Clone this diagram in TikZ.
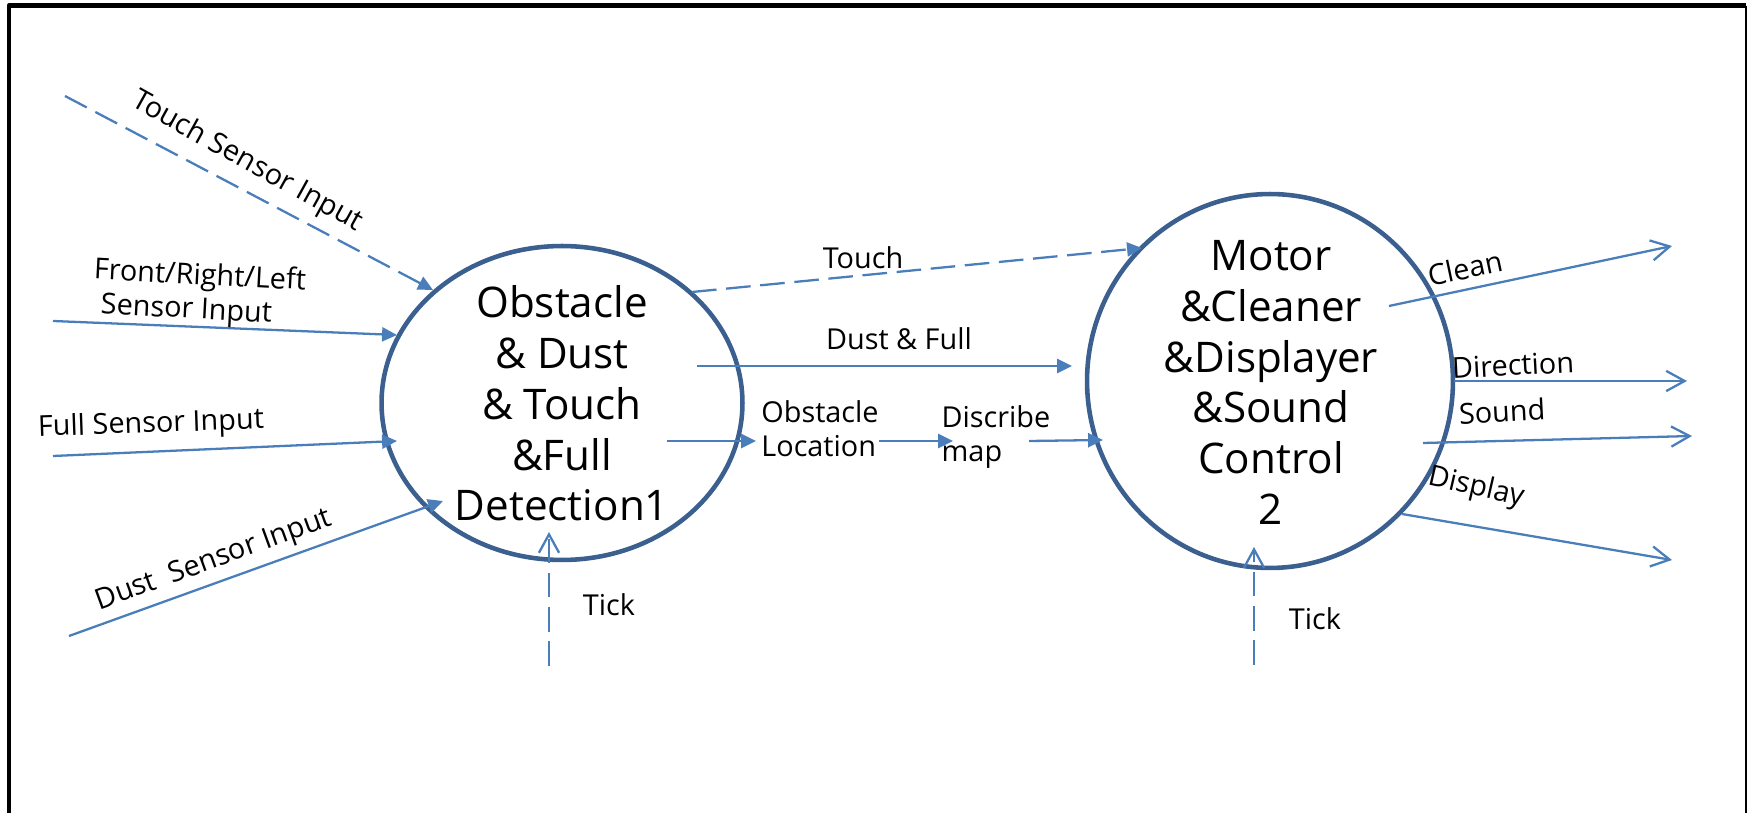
\documentclass[tikz,border=0pt]{standalone}
\usepackage{fontspec}
\setmainfont{Open Sans}
\usetikzlibrary{arrows.meta,shapes.geometric}
\definecolor{ringblue}{HTML}{3B5F8E}
\definecolor{flowblue}{HTML}{4A7EBB}
\begin{document}
\begin{tikzpicture}[x=0.02cm,y=-0.02cm,
  proc/.style={ellipse,draw=ringblue,line width=2.6pt,inner sep=0pt,outer sep=0pt},
  proctext/.style={align=center,inner sep=0pt,font=\fontsize{24pt}{28.9pt}\selectfont},
  lbl/.style={inner sep=0pt,font=\fontsize{16.4pt}{19.5pt}\selectfont},
  flow/.style={draw=flowblue,line width=1.3pt,-{Triangle[length=8.5pt,width=8pt]}},
  dashflow/.style={flow,dash pattern=on 14pt off 5.5pt},
  outflow/.style={draw=flowblue,line width=1.3pt,-{Straight Barb[length=10.5pt,width=11.5pt]}},
  tickflow/.style={outflow,dash pattern=on 14pt off 5.5pt},
]
\useasboundingbox (0,0) rectangle (1748,813);

% page frame (open at the bottom)
\draw[line width=2.55pt,line join=round] (8.8,813) -- (8.8,5.7) -- (1746,5.7);
\draw[line width=0.85pt] (1746,5.7) -- (1746,813);

% processes
\node[proc,minimum width=7.22cm,minimum height=6.28cm] (p1) at (562,403) {};
\node[proctext] (p1t) at (562,403.5) {Obstacle\\\& Dust\\\& Touch\\\&Full\\Detection1};
\node[proc,minimum width=7.32cm,minimum height=7.48cm] (p2) at (1270,381) {};
\node[proctext] (p2t) at (1271,382.5) {Motor\\\&Cleaner\\\&Displayer\\\&Sound\\Control\\2};

% flow end points
\coordinate (tsiS) at (65,96);    \coordinate (tsiE) at (433,290);
\coordinate (frlS) at (53,321);   \coordinate (frlE) at (397,335);
\coordinate (fsiS) at (53,456);   \coordinate (fsiE) at (397,441);
\coordinate (dsiS) at (69,636);   \coordinate (dsiE) at (443,501);
\coordinate (tkaS) at (549,666);  \coordinate (tkaE) at (549,532);
\coordinate (tchS) at (692,292);  \coordinate (tchE) at (1142,248);
\coordinate (dfS) at (697,366);   \coordinate (dfE) at (1072,366);
\coordinate (olS) at (667,441);   \coordinate (olE) at (756,441);
\coordinate (dmS) at (879,441);   \coordinate (dmE) at (953,441);
\coordinate (mpS) at (1029,441);  \coordinate (mpE) at (1103,440);
\coordinate (clS) at (1389,306);  \coordinate (clE) at (1672,246);
\coordinate (drS) at (1454,381);  \coordinate (drE) at (1687,381);
\coordinate (sdS) at (1423,443);  \coordinate (sdE) at (1692,436);
\coordinate (dpS) at (1402,514);  \coordinate (dpE) at (1672,560);
\coordinate (tkbS) at (1254,665); \coordinate (tkbE) at (1254,547);

% inputs of process 1
\draw[dashflow] (tsiS) -- (tsiE);
\draw[flow] (frlS) -- (frlE);
\draw[flow] (fsiS) -- (fsiE);
\draw[flow] (dsiS) -- (dsiE);
\draw[tickflow] (tkaS) -- (tkaE);

% flows from process 1 to process 2
\draw[dashflow] (tchS) -- (tchE);
\draw[flow] (dfS) -- (dfE);
\draw[flow] (olS) -- (olE);
\draw[flow] (dmS) -- (dmE);
\draw[flow] (mpS) -- (mpE);

% outputs of process 2
\draw[outflow] (clS) -- (clE);
\draw[outflow] (drS) -- (drE);
\draw[outflow] (sdS) -- (sdE);
\draw[outflow] (dpS) -- (dpE);
\draw[tickflow] (tkbS) -- (tkbE);

% flow labels
\node[lbl,rotate=-29] (lTsi) at (247,162) {Touch Sensor Input};
\node[lbl,rotate=-3,align=left] (lFrl) at (199,294) {Front/Right/Left\\\hspace*{5pt}Sensor Input};
\node[lbl,rotate=2] (lFsi) at (151,425) {Full Sensor Input};
\node[lbl,rotate=20] (lDsi) at (214,561) {Dust\ \ Sensor Input};
\node[lbl] (lTka) at (609,605) {Tick};
\node[lbl] (lTch) at (863,258) {Touch};
\node[lbl] (lDf) at (899,339) {Dust \& Full};
\node[lbl,align=left] (lOl) at (820,429) {Obstacle\\Location};
\node[lbl,align=left] (lDm) at (996,437) {Discribe\\map};
\node[lbl,rotate=12] (lCl) at (1465,268) {Clean};
\node[lbl,rotate=3] (lDr) at (1513,365) {Direction};
\node[lbl,rotate=3] (lSd) at (1502,411) {Sound};
\node[lbl,rotate=-13] (lDp) at (1476,488) {Display};
\node[lbl] (lTkb) at (1315,619) {Tick};
\end{tikzpicture}
\end{document}
